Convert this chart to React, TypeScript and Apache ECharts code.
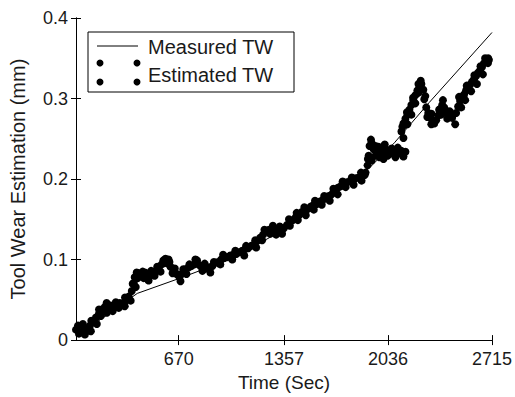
import React, { useEffect, useRef } from "react";
import * as echarts from "echarts";

const xTickValues = [670, 1357, 2036, 2715];
const yTickValues = [0, 0.1, 0.2, 0.3, 0.4];

const measuredTime = [0, 400, 680, 1000, 1357, 1700, 1916, 2078, 2305, 2715];
const measuredWear = [0.004, 0.058, 0.077, 0.1, 0.137, 0.183, 0.214, 0.245, 0.295, 0.382];

const estTime = [
  0, 13, 32, 52, 71, 91, 110, 130, 149, 169, 188, 208, 227, 247, 266, 286, 305, 325, 344, 364,
  377, 383, 403, 422, 442, 461, 481, 500, 520, 539, 559, 578, 598, 617, 637, 656, 675, 695, 714, 734,
  753, 773, 792, 812, 831, 851, 870, 890, 909, 929, 948, 968, 987, 1007, 1026, 1046, 1065, 1085, 1104, 1124,
  1143, 1163, 1182, 1202, 1221, 1241, 1260, 1280, 1299, 1318, 1338, 1357, 1377, 1396, 1416, 1435, 1455, 1474, 1494, 1513,
  1533, 1552, 1572, 1591, 1611, 1630, 1650, 1669, 1689, 1708, 1728, 1747, 1767, 1786, 1806, 1825, 1845, 1864, 1884, 1903,
  1910, 1916, 1929, 1942, 1955, 1968, 1981, 1994, 2007, 2020, 2033, 2046, 2059, 2072, 2085, 2098, 2111, 2124, 2137, 2150,
  2124, 2137, 2150, 2163, 2176, 2189, 2202, 2215, 2228, 2241, 2254, 2267, 2273, 2286, 2299, 2312, 2325, 2338, 2351, 2364,
  2377, 2390, 2403, 2416, 2429, 2442, 2455, 2475, 2481, 2494, 2507, 2520, 2533, 2546, 2559, 2572, 2585, 2598, 2611, 2624,
  2637, 2650, 2663, 2676, 2689, 2695,
  19, 58, 97, 136, 162, 201, 240, 279, 318, 357, 390, 396, 435, 474, 513, 552, 584, 604, 630, 682,
  721, 779, 825, 877, 942, 1020, 1098, 1176, 1215, 1267, 1306, 1345, 1396, 1448, 1500, 1552, 1604, 1656, 1708, 1760,
  1812, 1864, 1890, 1929, 1955, 2007, 2085, 2137, 2137, 2163, 2189, 2215, 2234, 2293, 2319, 2384, 2423, 2514, 2540, 2579,
  2617, 2656,
  45, 100, 150, 200, 260, 320, 370, 410, 450, 490, 530, 570, 610, 645, 700, 740, 790, 840, 900, 960,
  1040, 1110, 1170, 1230, 1285, 1330, 1390, 1440, 1490, 1560, 1620, 1680, 1740, 1800, 1860, 1905, 1925, 1975, 2015, 2060,
  2100, 2130, 2160, 2200, 2235, 2250, 2280, 2320, 2370, 2395, 2440, 2500, 2550, 2600, 2640, 2670, 2690,
];

const estWear = [
  0.013, 0.018, 0.01, 0.016, 0.012, 0.018, 0.022, 0.028, 0.032, 0.038, 0.041, 0.038, 0.043, 0.04, 0.042, 0.046, 0.044, 0.049, 0.054, 0.061,
  0.071, 0.078, 0.077, 0.08, 0.077, 0.082, 0.08, 0.084, 0.086, 0.09, 0.094, 0.096, 0.095, 0.091, 0.086, 0.082, 0.078, 0.083, 0.088, 0.09,
  0.092, 0.094, 0.095, 0.092, 0.09, 0.089, 0.09, 0.092, 0.096, 0.097, 0.1, 0.102, 0.103, 0.105, 0.106, 0.107, 0.109, 0.111, 0.113, 0.114,
  0.117, 0.119, 0.123, 0.127, 0.131, 0.135, 0.137, 0.138, 0.136, 0.135, 0.137, 0.139, 0.143, 0.147, 0.149, 0.153, 0.155, 0.159, 0.161, 0.163,
  0.166, 0.168, 0.169, 0.172, 0.174, 0.177, 0.179, 0.181, 0.185, 0.189, 0.191, 0.193, 0.196, 0.197, 0.198, 0.201, 0.202, 0.204, 0.205, 0.217,
  0.229, 0.241, 0.245, 0.237, 0.229, 0.234, 0.227, 0.239, 0.232, 0.237, 0.229, 0.234, 0.232, 0.235, 0.23, 0.234, 0.232, 0.235, 0.232, 0.234,
  0.259, 0.269, 0.275, 0.28, 0.286, 0.292, 0.298, 0.304, 0.31, 0.316, 0.318, 0.311, 0.299, 0.289, 0.282, 0.277, 0.273, 0.269, 0.273, 0.279,
  0.287, 0.292, 0.289, 0.285, 0.281, 0.279, 0.276, 0.268, 0.282, 0.29, 0.297, 0.302, 0.305, 0.31, 0.314, 0.317, 0.321, 0.324, 0.328, 0.332,
  0.335, 0.339, 0.344, 0.347, 0.344, 0.348,
  0.008, 0.007, 0.011, 0.02, 0.03, 0.034, 0.036, 0.04, 0.042, 0.049, 0.066, 0.084, 0.085, 0.074, 0.08, 0.085, 0.101, 0.1, 0.083, 0.073,
  0.082, 0.1, 0.086, 0.084, 0.094, 0.1, 0.105, 0.115, 0.124, 0.132, 0.131, 0.132, 0.142, 0.149, 0.155, 0.162, 0.168, 0.173, 0.181, 0.19,
  0.193, 0.198, 0.208, 0.223, 0.241, 0.225, 0.227, 0.228, 0.251, 0.268, 0.28, 0.294, 0.307, 0.277, 0.268, 0.28, 0.275, 0.289, 0.298, 0.309,
  0.318, 0.33,
  0.02, 0.024, 0.038, 0.046, 0.047, 0.053, 0.07, 0.083, 0.084, 0.086, 0.091, 0.099, 0.097, 0.089, 0.088, 0.094, 0.099, 0.095, 0.097, 0.106,
  0.111, 0.117, 0.124, 0.137, 0.142, 0.141, 0.15, 0.158, 0.165, 0.173, 0.179, 0.188, 0.197, 0.202, 0.208, 0.225, 0.249, 0.24, 0.243, 0.238,
  0.239, 0.265, 0.283, 0.301, 0.318, 0.322, 0.303, 0.281, 0.286, 0.298, 0.284, 0.302, 0.316, 0.329, 0.34, 0.35, 0.35,
];

const FONT = "Liberation Sans, Arial, sans-serif";
const TXT = "#1a1a1a";

export default function App() {
  const ref = useRef<HTMLDivElement>(null);
  useEffect(() => {
    if (!ref.current) return;
    const chart = echarts.init(ref.current, undefined, { renderer: "svg" });
    const measured = measuredTime.map((t, i) => [t, measuredWear[i]]);
    const estimated = estTime.map((t, i) => [t, estWear[i]]);
    const axisLine = { show: true, lineStyle: { color: "#000", width: 1 } };
    chart.setOption({
      animation: false,
      backgroundColor: "#fff",
      grid: { left: 75, right: 22, top: 18, bottom: 45, containLabel: false },
      xAxis: [
        {
          type: "value",
          min: 0,
          max: 2715,
          position: "bottom",
          axisLine,
          splitLine: { show: false },
          axisTick: { show: true, inside: true, length: 5, customValues: xTickValues, lineStyle: { color: "#000" } },
          axisLabel: {
            customValues: xTickValues,
            color: TXT,
            fontSize: 18,
            fontFamily: FONT,
            margin: 10,
            formatter: (v: number) => String(v),
          },
          name: "Time (Sec)",
          nameLocation: "middle",
          nameGap: 25,
          nameTextStyle: { color: TXT, fontSize: 19, fontFamily: FONT },
        },
        {
          type: "value",
          min: 0,
          max: 2715,
          position: "top",
          axisLine,
          splitLine: { show: false },
          axisTick: { show: true, inside: true, length: 5, customValues: xTickValues, lineStyle: { color: "#000" } },
          axisLabel: { show: false },
        },
      ],
      yAxis: [
        {
          type: "value",
          min: 0,
          max: 0.4,
          interval: 0.1,
          position: "left",
          axisLine,
          splitLine: { show: false },
          axisTick: { show: true, inside: true, length: 5, customValues: yTickValues, lineStyle: { color: "#000" } },
          axisLabel: {
            customValues: yTickValues,
            color: TXT,
            fontSize: 18,
            fontFamily: FONT,
            margin: 8,
            formatter: (v: number) => (v === 0 ? "0" : String(Math.round(v * 10) / 10)),
          },
          name: "Tool Wear Estimation (mm)",
          nameLocation: "middle",
          nameGap: 48,
          nameTextStyle: { color: TXT, fontSize: 20, fontFamily: FONT },
        },
        {
          type: "value",
          min: 0,
          max: 0.4,
          interval: 0.1,
          position: "right",
          axisLine,
          splitLine: { show: false },
          axisTick: { show: true, inside: true, length: 5, customValues: yTickValues, lineStyle: { color: "#000" } },
          axisLabel: { show: false },
        },
      ],
      series: [
        {
          name: "Measured TW",
          type: "line",
          data: measured,
          showSymbol: false,
          symbol: "none",
          lineStyle: { color: "#000", width: 1 },
          z: 2,
        },
        {
          name: "Estimated TW",
          type: "scatter",
          data: estimated,
          symbol: "circle",
          symbolSize: 8,
          itemStyle: { color: "#000", opacity: 1 },
          z: 3,
        },
      ],
      graphic: [
        {
          type: "group",
          z: 100,
          children: [
            { type: "rect", shape: { x: 88, y: 32, width: 206, height: 60 }, style: { fill: "#fff", stroke: "#000", lineWidth: 1 } },
            { type: "line", shape: { x1: 97, y1: 46, x2: 138, y2: 46 }, style: { stroke: "#000", lineWidth: 1 } },
            { type: "text", x: 148, y: 47, style: { text: "Measured TW", fill: TXT, fontSize: 20, fontFamily: FONT, verticalAlign: "middle" } },
            { type: "circle", shape: { cx: 100, cy: 63, r: 3.5 }, style: { fill: "#000" } },
            { type: "circle", shape: { cx: 137, cy: 63, r: 3.5 }, style: { fill: "#000" } },
            { type: "circle", shape: { cx: 100, cy: 82, r: 3.5 }, style: { fill: "#000" } },
            { type: "circle", shape: { cx: 137, cy: 82, r: 3.5 }, style: { fill: "#000" } },
            { type: "text", x: 148, y: 75, style: { text: "Estimated TW", fill: TXT, fontSize: 20, fontFamily: FONT, verticalAlign: "middle" } },
          ],
        },
      ],
    });
    return () => chart.dispose();
  }, []);
  return <div ref={ref} style={{ width: 515, height: 397, position: "absolute", left: 0, top: 0 }} />;
}
